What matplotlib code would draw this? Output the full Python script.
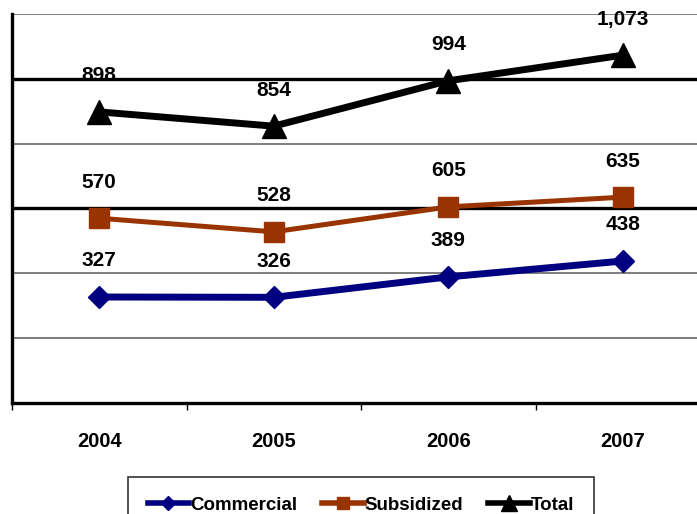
import matplotlib
matplotlib.use("Agg")
import matplotlib.pyplot as plt
from matplotlib.ticker import FixedLocator

plt.rcParams['font.family'] = ['Liberation Sans', 'DejaVu Sans']
plt.rcParams['font.weight'] = 'bold'

years = ['2004', '2005', '2006', '2007']
commercial = [327, 326, 389, 438]
subsidized = [570, 528, 605, 635]
total = [898, 854, 994, 1073]
total_labels = ['898', '854', '994', '1,073']

fig = plt.figure(figsize=(6.97, 5.14), dpi=100)
ax = fig.add_axes([12 / 697, 111 / 514, 698 / 697, 389 / 514])

x = list(range(len(years)))
ax.set_xlim(-0.5, 3.5)
ax.set_ylim(0, 1200)

# horizontal grid: thin gray with two heavy black rules
for yv in (200, 400, 800, 1200):
    ax.axhline(yv, color='#666666', lw=1.2, zorder=1)
for yv in (600, 1000):
    ax.axhline(yv, color='black', lw=2.4, zorder=1)

series = [
    ('Commercial', commercial, '#000080', 'D', 11, 5.0, [str(v) for v in commercial]),
    ('Subsidized', subsidized, '#993300', 's', 14, 3.6, [str(v) for v in subsidized]),
    ('Total', total, 'black', '^', 17, 5.0, total_labels),
]
for name, vals, col, mk, ms, lw, labels in series:
    ax.plot(x, vals, color=col, marker=mk, markersize=ms, lw=lw,
            label=name, zorder=3, solid_joinstyle='miter')
    for xi, v, lab in zip(x, vals, labels):
        ax.annotate(lab, (xi, v), xytext=(0, 26), textcoords='offset points',
                    ha='center', va='center', fontsize=15, fontweight='bold',
                    zorder=4)

for side in ('top', 'right'):
    ax.spines[side].set_visible(False)
ax.spines['left'].set_linewidth(2.4)
ax.spines['bottom'].set_linewidth(2.4)

ax.set_yticks([])
ax.set_xticks(x)
ax.set_xticklabels(years, fontsize=14.5, fontweight='bold')
ax.tick_params(axis='x', which='major', length=0, pad=21)
ax.xaxis.set_minor_locator(FixedLocator([-0.5, 0.5, 1.5, 2.5, 3.5]))
ax.tick_params(axis='x', which='minor', length=5, width=1, direction='out')

leg = fig.legend(loc='upper left', bbox_to_anchor=(128 / 697, 1 - 477 / 514),
                 ncol=3, frameon=True, fancybox=False, edgecolor='black',
                 prop={'size': 13.5, 'weight': 'bold'}, handlelength=2.2,
                 handletextpad=0.05, columnspacing=1.35, borderpad=1.05,
                 borderaxespad=0, markerscale=0.65)
leg.get_frame().set_linewidth(1.2)
for line in leg.get_lines():
    line.set_linewidth(4)

fig.savefig('out.png', dpi=100)
